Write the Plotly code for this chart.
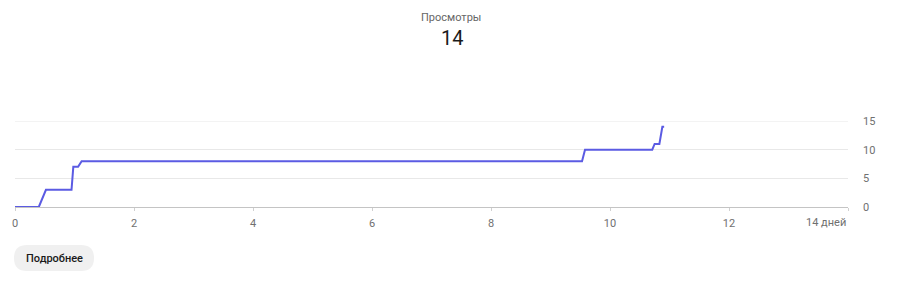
import plotly.graph_objects as go

# Data
days = [0, 0.40, 0.52, 0.95, 0.98, 1.06, 1.12, 9.53, 9.58, 10.71, 10.75, 10.83, 10.88, 10.91]
views = [0, 0, 3, 3, 7, 7, 8, 8, 10, 10, 11, 11, 14, 14]
x_ticks = [0, 2, 4, 6, 8, 10, 12, 14]
x_tick_labels = ["0", "2", "4", "6", "8", "10", "12", ""]
y_ticks = [0, 5, 10, 15]
title_text = "Просмотры"
total_text = "14"
last_label = "14 дней"
button_text = "Подробнее"

W, H = 900, 288
L, R, T, B = 15, 52, 121, 81
pw, ph = W - L - R, H - T - B

def px(x):
    return (x - L) / pw

def py(y):
    return (H - B - y) / ph

FONT = "Roboto, Arial, sans-serif"
LABEL = "#707070"

fig = go.Figure()
fig.add_trace(go.Scatter(x=days, y=views, mode="lines",
                         line=dict(color="#5b5be3", width=2), hoverinfo="skip"))

fig.update_layout(
    width=W, height=H, margin=dict(l=L, r=R, t=T, b=B),
    paper_bgcolor="white", plot_bgcolor="white", showlegend=False,
    font=dict(family=FONT, size=11, color=LABEL),
    xaxis=dict(range=[0, 14], tickvals=x_ticks, ticktext=x_tick_labels,
               showgrid=False, zeroline=False, showline=True, linecolor="#c4c4c4",
               linewidth=1, ticks="outside", ticklen=3, tickcolor="#d0d0d0",
               ticklabelstandoff=3,
               tickfont=dict(size=11, color=LABEL), fixedrange=True),
    yaxis=dict(range=[0, 15], tickvals=y_ticks, side="right", showgrid=True,
               gridcolor="#e8e8e8", zeroline=False, showline=False,
               ticklabelstandoff=14, tickfont=dict(size=11, color=LABEL),
               fixedrange=True),
)

# top gridline at 15 (edge of range)
fig.add_shape(type="line", xref="paper", yref="y", x0=0, x1=1, y0=15, y1=15,
              line=dict(color="#e8e8e8", width=1), layer="below")

# last x label aligned right
fig.add_annotation(x=14, xref="x", y=py(214), yref="paper", text=last_label,
                   showarrow=False, xanchor="right", yanchor="top",
                   font=dict(family=FONT, size=11, color=LABEL))

# header texts
fig.add_annotation(x=px(451), y=py(17), xref="paper", yref="paper", text=title_text,
                   showarrow=False, xanchor="center", yanchor="middle",
                   font=dict(family=FONT, size=11, color="#666666"))
fig.add_annotation(x=px(452), y=py(38), xref="paper", yref="paper", text=total_text,
                   showarrow=False, xanchor="center", yanchor="middle",
                   font=dict(family=FONT, size=20, color="#1a1a1a"))

# rounded button
x0, x1, y0, y1, r = 14, 94, 245, 271, 13
def P(x, y):
    return f"{px(x)},{py(y)}"
path = (f"M {P(x0 + r, y0)} L {P(x1 - r, y0)} "
        f"Q {P(x1, y0)} {P(x1, y0 + r)} Q {P(x1, y1)} {P(x1 - r, y1)} "
        f"L {P(x0 + r, y1)} Q {P(x0, y1)} {P(x0, y1 - r)} Q {P(x0, y0)} {P(x0 + r, y0)} Z")
fig.add_shape(type="path", path=path, xref="paper", yref="paper",
              fillcolor="#f0f0f0", line=dict(width=0), layer="below")
fig.add_annotation(x=px((x0 + x1) / 2), y=py((y0 + y1) / 2), xref="paper", yref="paper",
                   text=button_text, showarrow=False,
                   xanchor="center", yanchor="middle",
                   font=dict(family=FONT, size=11, color="#1a1a1a", weight=500))

fig.write_html("out.html")
